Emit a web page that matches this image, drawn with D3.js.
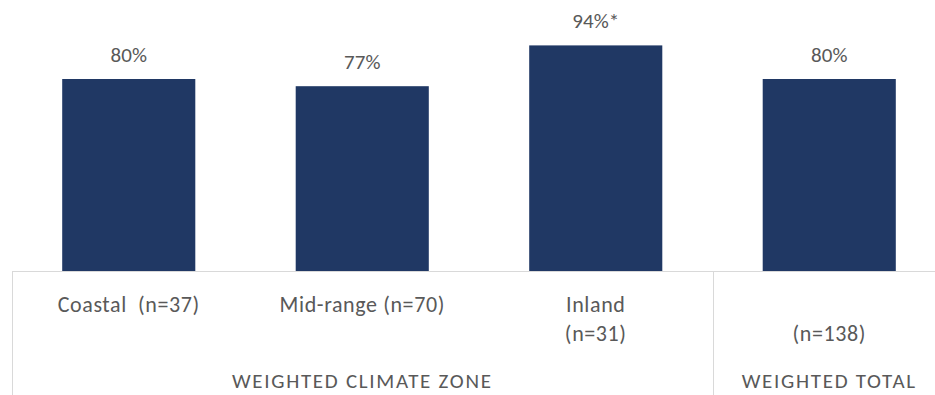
<!DOCTYPE html>
<html>
<head>
<meta charset="utf-8">
<script src="https://cdn.jsdelivr.net/npm/d3@7"></script>
<style>
  html, body { margin: 0; padding: 0; background: #ffffff; }
  svg { display: block; }
  text { font-family: Carlito, Lato, "Noto Sans", sans-serif; fill: #595959; white-space: pre; }
</style>
</head>
<body>
<svg id="chart" width="935" height="395"></svg>
<script>
// Share of respondents by weighted climate zone, plus the weighted total
const categories = ["Coastal", "Mid-range", "Inland", "Total"];
const values = [80, 77, 94, 80];
const valueLabels = ["80%", "77%", "94%*", "80%"];
const categoryLines = [["Coastal  (n=37)"], ["Mid-range (n=70)"], ["Inland", "(n=31)"], ["", "(n=138)"]];
const groups = ["WEIGHTED CLIMATE ZONE", "WEIGHTED CLIMATE ZONE", "WEIGHTED CLIMATE ZONE", "WEIGHTED TOTAL"];

const svg = d3.select("#chart");
const W = 935, H = 395;
const baseY = 271;

const x = d3.scaleBand().domain(categories).range([12, 946]).paddingInner(0.43).paddingOuter(0.215);
const y = d3.scaleLinear().domain([0, 100]).range([baseY, 31]);
const step = x.step();
const bandStart = c => x(c) - x.paddingOuter() * step; // left edge of a category slot

// bars
svg.append("g").selectAll("rect").data(categories).join("rect")
  .attr("x", d => x(d))
  .attr("y", (d, i) => y(values[i]))
  .attr("width", x.bandwidth())
  .attr("height", (d, i) => baseY - y(values[i]))
  .attr("fill", "#203864");

// value labels
svg.append("g").selectAll("text").data(categories).join("text")
  .attr("x", d => x(d) + x.bandwidth() / 2)
  .attr("y", (d, i) => y(values[i]) - 17)
  .attr("text-anchor", "middle")
  .attr("font-size", 21)
  .text((d, i) => valueLabels[i]);

// category axis: baseline and group separators
const axis = svg.append("g").attr("stroke", "#d9d9d9").attr("stroke-width", 1);
axis.append("line").attr("x1", 12).attr("x2", W).attr("y1", baseY + 0.5).attr("y2", baseY + 0.5);

const groupNames = Array.from(new Set(groups));
const groupSpans = groupNames.map(g => {
  const cats = categories.filter((c, i) => groups[i] === g);
  const start = bandStart(cats[0]);
  const end = bandStart(cats[cats.length - 1]) + step;
  return { name: g, start, end };
});
groupSpans.forEach(s => {
  axis.append("line")
    .attr("x1", Math.round(s.start) + 0.5).attr("x2", Math.round(s.start) + 0.5)
    .attr("y1", baseY).attr("y2", H);
});

// category labels (may wrap to two lines)
const catG = svg.append("g").attr("font-size", 22).attr("letter-spacing", 0.6).attr("text-anchor", "middle");
categories.forEach((c, i) => {
  categoryLines[i].forEach((line, j) => {
    if (!line) return;
    catG.append("text")
      .attr("x", x(c) + x.bandwidth() / 2)
      .attr("y", 312 + j * 29)
      .text(line);
  });
});

// group labels
svg.append("g").attr("font-size", 21).attr("letter-spacing", 1.7).attr("text-anchor", "middle")
  .selectAll("text").data(groupSpans).join("text")
  .attr("x", (d, i) => {
    const cats = categories.filter((c, k) => groups[k] === d.name);
    return (x(cats[0]) + x(cats[cats.length - 1]) + x.bandwidth()) / 2;
  })
  .attr("y", 388)
  .text(d => d.name);
</script>
</body>
</html>
